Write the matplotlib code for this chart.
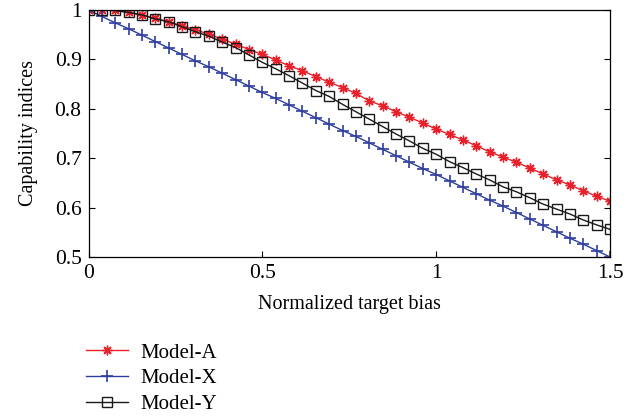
import numpy as np
import matplotlib
matplotlib.use("Agg")
import matplotlib.pyplot as plt

plt.rcParams['font.family'] = ['Liberation Serif', 'DejaVu Serif']

x = np.linspace(0, 1.5, 40)

model_a = [1.000, 1.000, 0.999, 0.995, 0.990, 0.983, 0.976, 0.968, 0.960, 0.951,
           0.941, 0.931, 0.920, 0.910, 0.899, 0.887, 0.877, 0.865, 0.854, 0.843,
           0.831, 0.816, 0.806, 0.794, 0.783, 0.771, 0.759, 0.748, 0.737, 0.725,
           0.713, 0.702, 0.692, 0.680, 0.668, 0.656, 0.646, 0.634, 0.623, 0.613]

model_x = [1.000, 0.987, 0.974, 0.962, 0.949, 0.936, 0.923, 0.910, 0.897, 0.885,
           0.872, 0.859, 0.846, 0.833, 0.821, 0.808, 0.795, 0.782, 0.769, 0.756,
           0.744, 0.731, 0.718, 0.705, 0.692, 0.679, 0.667, 0.654, 0.641, 0.628,
           0.615, 0.603, 0.590, 0.577, 0.564, 0.551, 0.538, 0.526, 0.513, 0.500]

model_y = [1.000, 1.000, 0.999, 0.995, 0.990, 0.982, 0.976, 0.966, 0.956, 0.947,
           0.935, 0.924, 0.909, 0.894, 0.881, 0.867, 0.852, 0.837, 0.825, 0.809,
           0.794, 0.779, 0.764, 0.749, 0.735, 0.720, 0.708, 0.693, 0.681, 0.668,
           0.656, 0.642, 0.632, 0.620, 0.607, 0.597, 0.587, 0.575, 0.565, 0.556]

labels = ['Model-A', 'Model-X', 'Model-Y']
xticks = [0, 0.5, 1, 1.5]
xticklabels = ['0', '0.5', '1', '1.5']
yticks = [0.5, 0.6, 0.7, 0.8, 0.9, 1.0]
yticklabels = ['0.5', '0.6', '0.7', '0.8', '0.9', '1']

fig = plt.figure(figsize=(6.37, 4.19), dpi=100)
ax = fig.add_axes([88.5/637, 1-257/419, (610-88.5)/637, (257-10)/419])

ax.plot(x, model_a, color='#e8202a', lw=1.0, marker=(8, 2, 0), ms=7, mew=1.0,
        label=labels[0])
ax.plot(x, model_x, color='#2e3d9e', lw=1.0, marker='+', ms=9, mew=1.2,
        label=labels[1])
ax.plot(x, model_y, color='#1a1a1a', lw=1.0, marker='s', ms=7, mew=1.0,
        mfc='none', label=labels[2])

ax.set_xlim(0, 1.5)
ax.set_ylim(0.5, 1.0)
ax.set_xticks(xticks)
ax.set_xticklabels(xticklabels)
ax.set_yticks(yticks)
ax.set_yticklabels(yticklabels)
ax.tick_params(direction='in', length=4, labelsize=15.5, width=0.8, pad=5,
               top=False, right=True)
for s in ax.spines.values():
    s.set_linewidth(0.9)
ax.set_xlabel('Normalized target bias', fontsize=14.5, labelpad=9)
ax.set_ylabel('Capability indices', fontsize=14.5, labelpad=12)

handles, labs = ax.get_legend_handles_labels()
fig.legend(handles, labs, loc='upper left', bbox_to_anchor=(86/637, 1-343/419),
           frameon=False, fontsize=15, handlelength=2.0, labelspacing=0.3,
           handletextpad=0.6, borderaxespad=0, borderpad=0.0)

fig.savefig('out.png', dpi=100)
